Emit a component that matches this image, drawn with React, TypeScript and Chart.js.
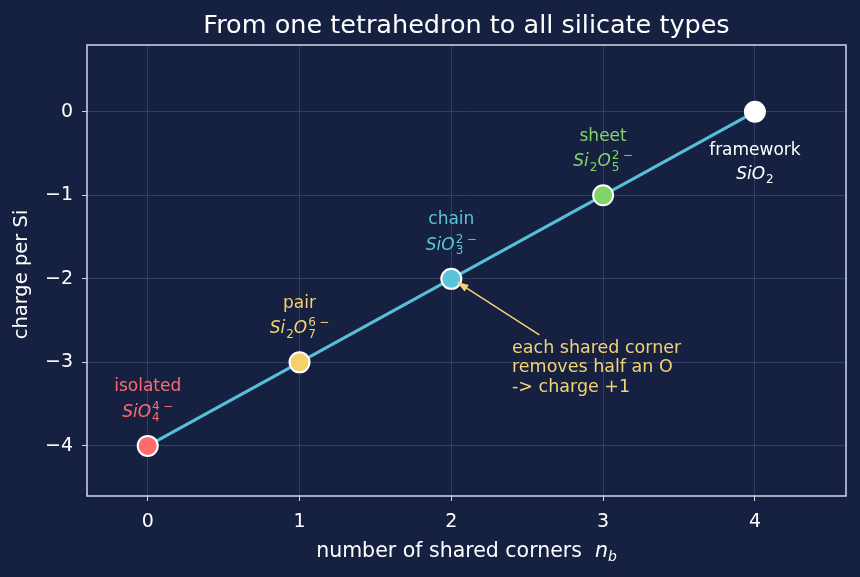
import React, { useEffect, useRef } from "react";
import { Chart, registerables } from "chart.js";

Chart.register(...registerables);

const sharedCorners = [0, 1, 2, 3, 4];
const chargePerSi = [-4, -3, -2, -1, 0];
const typeNames = ["isolated", "pair", "chain", "sheet", "framework"];
const typeColors = ["#ff6b6b", "#f6d06c", "#5bc4dc", "#80d46a", "#ffffff"];
const formulas: any[][] = [
  [{ t: "SiO" }, { sub: "4", sup: "4" }],
  [{ t: "Si" }, { sub: "2" }, { t: "O" }, { sub: "7", sup: "6" }],
  [{ t: "SiO" }, { sub: "3", sup: "2" }],
  [{ t: "Si" }, { sub: "2" }, { t: "O" }, { sub: "5", sup: "2" }],
  [{ t: "SiO" }, { sub: "2" }],
];
const xTicks = [0, 1, 2, 3, 4];
const yTicks = [-4, -3, -2, -1, 0];
const noteLines = ["each shared corner", "removes half an O", "-> charge +1"];
const noteAnchor = { x: 2.4, y: -2.83 };
const arrowFrom = { x: 2.58, y: -2.67 };
const arrowTo = { x: 2.035, y: -2.035 };

const BG = "#162040";
const FONT = '"DejaVu Sans"';
const NOTE_COLOR = "#f2d474";
const ANN = 17;

function drawFormula(ctx: CanvasRenderingContext2D, parts: any[], cx: number, cy: number, size: number, color: string) {
  const main = `italic ${size}px ${FONT}`;
  const smallSize = Math.round(size * 0.7);
  const small = `${smallSize}px ${FONT}`;
  const gap = size * 0.2;
  const items: any[] = [];
  let total = 0;
  for (const p of parts) {
    if (p.t) {
      ctx.font = main;
      const w = ctx.measureText(p.t).width;
      items.push({ ...p, w });
      total += w;
    } else {
      ctx.font = small;
      const ws = p.sub ? ctx.measureText(p.sub).width : 0;
      const wsup = p.sup ? ctx.measureText(p.sup).width + gap + ctx.measureText("−").width : 0;
      const w = Math.max(ws, wsup) + 1;
      items.push({ ...p, w });
      total += w;
    }
  }
  let x = cx - total / 2;
  const base = cy + size * 0.36;
  ctx.fillStyle = color;
  ctx.textAlign = "left";
  ctx.textBaseline = "alphabetic";
  for (const it of items) {
    if (it.t) {
      ctx.font = main;
      ctx.fillText(it.t, x, base);
    } else {
      ctx.font = small;
      if (it.sub) ctx.fillText(it.sub, x + 1, base + size * 0.26);
      if (it.sup) {
        ctx.fillText(it.sup, x + 1, base - size * 0.42);
        const w4 = ctx.measureText(it.sup).width;
        ctx.fillText("−", x + 1 + w4 + gap, base - size * 0.42);
      }
    }
    x += it.w;
  }
}

const customPlugin = {
  id: "custom",
  beforeDraw(chart: any) {
    const { ctx, width, height } = chart;
    ctx.save();
    ctx.fillStyle = BG;
    ctx.fillRect(0, 0, width, height);
    ctx.restore();
  },
  afterDraw(chart: any) {
    const { ctx, chartArea } = chart;
    const xs = chart.scales.x;
    const ys = chart.scales.y;
    ctx.save();
    // frame
    ctx.strokeStyle = "#d0d8e8";
    ctx.lineWidth = 1.5;
    ctx.strokeRect(chartArea.left, chartArea.top, chartArea.right - chartArea.left, chartArea.bottom - chartArea.top);

    // title
    ctx.fillStyle = "#ffffff";
    ctx.font = `25.5px ${FONT}`;
    ctx.textAlign = "center";
    ctx.textBaseline = "alphabetic";
    const cxArea = (chartArea.left + chartArea.right) / 2;
    ctx.fillText("From one tetrahedron to all silicate types", cxArea, 33);

    // x label
    const XS = 20.5;
    ctx.font = `${XS}px ${FONT}`;
    const lab = "number of shared corners  ";
    const wl = ctx.measureText(lab).width;
    ctx.font = `italic ${XS}px ${FONT}`;
    const wn = ctx.measureText("n").width;
    ctx.font = `italic ${Math.round(XS * 0.7)}px ${FONT}`;
    const wb = ctx.measureText("b").width;
    let lx = cxArea - (wl + wn + wb) / 2;
    const ly = 557;
    ctx.textAlign = "left";
    ctx.textBaseline = "alphabetic";
    ctx.fillStyle = "#ffffff";
    ctx.font = `${XS}px ${FONT}`;
    ctx.fillText(lab, lx, ly);
    lx += wl;
    ctx.font = `italic ${XS}px ${FONT}`;
    ctx.fillText("n", lx, ly);
    lx += wn;
    ctx.font = `italic ${Math.round(XS * 0.7)}px ${FONT}`;
    ctx.fillText("b", lx, ly + 4);

    // y label
    ctx.save();
    ctx.translate(22, (chartArea.top + chartArea.bottom) / 2 + 4);
    ctx.rotate(-Math.PI / 2);
    ctx.font = `19.5px ${FONT}`;
    ctx.textAlign = "center";
    ctx.textBaseline = "middle";
    ctx.fillText("charge per Si", 0, 0);
    ctx.restore();

    // point labels
    for (let i = 0; i < sharedCorners.length; i++) {
      const px = xs.getPixelForValue(sharedCorners[i]);
      const py = ys.getPixelForValue(chargePerSi[i]);
      const below = i === sharedCorners.length - 1;
      const nameY = below ? py + 39 : py - 59;
      const formY = below ? py + 61 : py - 35;
      ctx.font = `${ANN}px ${FONT}`;
      ctx.textAlign = "center";
      ctx.textBaseline = "middle";
      ctx.fillStyle = typeColors[i];
      ctx.fillText(typeNames[i], px, nameY);
      drawFormula(ctx, formulas[i], px, formY, ANN, typeColors[i]);
    }

    // note
    ctx.font = `17.5px ${FONT}`;
    ctx.textAlign = "left";
    ctx.textBaseline = "middle";
    ctx.fillStyle = NOTE_COLOR;
    const nx = xs.getPixelForValue(noteAnchor.x);
    const ny = ys.getPixelForValue(noteAnchor.y);
    noteLines.forEach((l, k) => ctx.fillText(l, nx, ny + k * 19.5));

    // arrow
    const ax1 = xs.getPixelForValue(arrowFrom.x);
    const ay1 = ys.getPixelForValue(arrowFrom.y);
    const ax2 = xs.getPixelForValue(arrowTo.x);
    const ay2 = ys.getPixelForValue(arrowTo.y);
    const ang = Math.atan2(ay2 - ay1, ax2 - ax1);
    const hl = 12, hw = 4;
    ctx.strokeStyle = NOTE_COLOR;
    ctx.lineWidth = 1.5;
    ctx.beginPath();
    ctx.moveTo(ax1, ay1);
    ctx.lineTo(ax2 - Math.cos(ang) * hl * 0.8, ay2 - Math.sin(ang) * hl * 0.8);
    ctx.stroke();
    ctx.beginPath();
    ctx.moveTo(ax2, ay2);
    ctx.lineTo(ax2 - Math.cos(ang) * hl - Math.sin(ang) * hw, ay2 - Math.sin(ang) * hl + Math.cos(ang) * hw);
    ctx.lineTo(ax2 - Math.cos(ang) * hl + Math.sin(ang) * hw, ay2 - Math.sin(ang) * hl - Math.cos(ang) * hw);
    ctx.closePath();
    ctx.fillStyle = NOTE_COLOR;
    ctx.fill();
    ctx.restore();
  },
};

export default function App() {
  const ref = useRef<HTMLCanvasElement>(null);
  useEffect(() => {
    document.body.style.margin = "0";
    const canvas = ref.current!;
    const fmt = (v: number) => (v < 0 ? "−" + Math.abs(v) : String(v));
    const chart = new Chart(canvas, {
      type: "line",
      data: {
        datasets: [
          {
            data: sharedCorners.map((x, i) => ({ x, y: chargePerSi[i] })),
            borderColor: "#56c0d8",
            borderWidth: 3,
            pointBackgroundColor: typeColors,
            pointBorderColor: "#ffffff",
            pointBorderWidth: 2,
            pointRadius: 10,
            tension: 0,
          },
        ],
      },
      options: {
        responsive: false,
        animation: false,
        devicePixelRatio: 1,
        layout: { padding: { top: 45, right: 14, left: 0, bottom: 0 } },
        plugins: { legend: { display: false }, tooltip: { enabled: false }, title: { display: false } },
        scales: {
          x: {
            type: "linear",
            min: -0.4,
            max: 4.6,
            afterBuildTicks: (s: any) => {
              s.ticks = xTicks.map((v) => ({ value: v }));
            },
            afterFit: (s: any) => {
              s.height = 81;
            },
            grid: { color: "rgba(120,140,195,0.28)", tickColor: "#d0d8e8", tickLength: 5, lineWidth: 1 },
            border: { display: false },
            ticks: { color: "#ffffff", font: { family: "DejaVu Sans", size: 19 }, padding: 10, callback: (v: any) => fmt(Number(v)) },
          },
          y: {
            type: "linear",
            min: -4.6,
            max: 0.8,
            afterBuildTicks: (s: any) => {
              s.ticks = yTicks.map((v) => ({ value: v }));
            },
            afterFit: (s: any) => {
              s.width = 87;
            },
            grid: { color: "rgba(120,140,195,0.28)", tickColor: "#d0d8e8", tickLength: 5, lineWidth: 1 },
            border: { display: false },
            ticks: { color: "#ffffff", font: { family: "DejaVu Sans", size: 19 }, padding: 9, callback: (v: any) => fmt(Number(v)) },
          },
        },
      },
      plugins: [customPlugin],
    } as any);
    return () => chart.destroy();
  }, []);
  return (
    <div style={{ position: "absolute", left: 0, top: 0, width: 860, height: 577 }}>
      <canvas ref={ref} width={860} height={577} style={{ width: 860, height: 577, display: "block" }} />
    </div>
  );
}
